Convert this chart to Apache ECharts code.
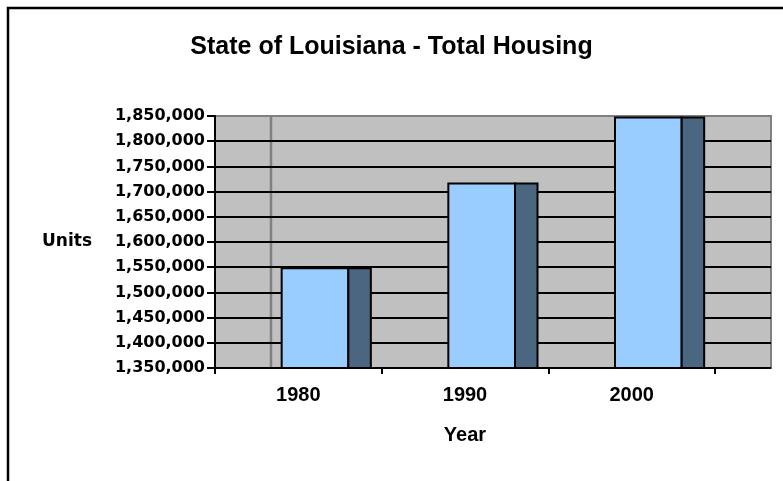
<!DOCTYPE html>
<html>
<head>
<meta charset="utf-8">
<script src="https://cdn.jsdelivr.net/npm/echarts@6/dist/echarts.min.js"></script>
<style>
html,body{margin:0;padding:0;background:#fff;}
#chart{width:783px;height:481px;}
</style>
</head>
<body>
<div id="chart"></div>
<script>
var categories = ['1980', '1990', '2000'];
var housingUnits = [1548000, 1716000, 1847000];
var yTicks = [1350000, 1400000, 1450000, 1500000, 1550000, 1600000, 1650000, 1700000, 1750000, 1800000, 1850000];

var yMin = yTicks[0];
var yMax = yTicks[yTicks.length - 1];
var yStep = yTicks[1] - yTicks[0];

var splitColors = yTicks.map(function (t, i) { return i === yTicks.length - 1 ? '#808080' : '#000000'; });

var chart = echarts.init(document.getElementById('chart'), null, {renderer: 'canvas'});

var option = {
  animation: false,
  backgroundColor: '#ffffff',
  title: {
    text: 'State of Louisiana - Total Housing',
    left: 'center',
    top: 30,
    textStyle: {fontFamily: 'Liberation Sans', fontWeight: 'bold', fontSize: 25, color: '#000'}
  },
  graphic: [
    {type: 'rect', z: 0, shape: {x: 8, y: 8, width: 800, height: 500},
     style: {fill: 'none', stroke: '#000', lineWidth: 2.5}},
    {type: 'line', z: 1, shape: {x1: 271, y1: 116, x2: 271, y2: 368},
     style: {stroke: '#808080', lineWidth: 2.5}}
  ],
  grid: [
    {left: 215, top: 116, right: 12, bottom: 113, show: true, z: 0,
     backgroundColor: '#C0C0C0', borderColor: '#808080', borderWidth: 2},
    {left: 215, top: 116, right: 68, bottom: 113}
  ],
  xAxis: [
    {type: 'value', gridIndex: 0, show: false, min: 0, max: 1},
    {type: 'category', gridIndex: 1, data: categories, z: 3,
     axisLine: {show: true, lineStyle: {color: '#000', width: 2}},
     axisTick: {show: true, length: 6, lineStyle: {color: '#000', width: 2}},
     axisLabel: {margin: 17, fontFamily: 'Liberation Sans', fontWeight: 'bold', fontSize: 20, color: '#000'},
     name: 'Year', nameLocation: 'middle', nameGap: 57,
     nameTextStyle: {fontFamily: 'Liberation Sans', fontWeight: 'bold', fontSize: 20, color: '#000'},
     splitLine: {show: false}}
  ],
  yAxis: [
    {type: 'value', gridIndex: 0, min: yMin, max: yMax, interval: yStep, z: 3,
     axisLine: {show: true, lineStyle: {color: '#000', width: 2}},
     axisTick: {show: true, length: 8, inside: false, lineStyle: {color: '#000', width: 2}},
     axisLabel: {margin: 10, fontFamily: 'DejaVu Sans', fontWeight: 'bold', fontSize: 16, color: '#000',
       padding: [3, 0, 0, 0],
       formatter: function (v) { return v.toLocaleString('en-US'); }},
     splitLine: {show: true, lineStyle: {color: splitColors, width: 2}},
     name: 'Units', nameLocation: 'middle', nameRotate: 0, nameGap: 123,
     nameTextStyle: {fontFamily: 'DejaVu Sans', fontWeight: 'bold', fontSize: 17, color: '#000', align: 'right',
       padding: [8, 0, 0, 0]}},
    {type: 'value', gridIndex: 1, min: yMin, max: yMax, interval: yStep, show: false,
     splitLine: {show: false}}
  ],
  series: [
    {
      type: 'custom',
      xAxisIndex: 1,
      yAxisIndex: 1,
      z: 5,
      data: housingUnits.map(function (v, i) { return [i, v]; }),
      encode: {x: 0, y: 1},
      renderItem: function (params, api) {
        var idx = api.value(0);
        var val = api.value(1);
        var top = api.coord([idx, val]);
        var base = api.coord([idx, yMin]);
        var cw = api.size([1, 0])[0];
        var left = top[0] - cw / 2;
        var fx = left + cw * 0.40;
        var fw = cw * 0.40;
        var sw = cw * 0.135;
        var h = base[1] - top[1];
        return {
          type: 'group',
          children: [
            {type: 'rect', shape: {x: fx, y: top[1], width: fw, height: h},
             style: {fill: '#99CCFF', stroke: '#000', lineWidth: 2}},
            {type: 'rect', shape: {x: fx + fw, y: top[1], width: sw, height: h},
             style: {fill: '#4B6680', stroke: '#000', lineWidth: 2}}
          ]
        };
      }
    }
  ]
};
chart.setOption(option);
</script>
</body>
</html>
